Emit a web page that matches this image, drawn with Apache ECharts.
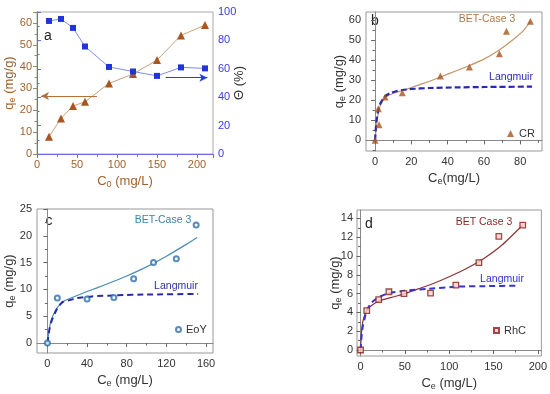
<!DOCTYPE html>
<html><head><meta charset="utf-8">
<script src="https://cdn.jsdelivr.net/npm/echarts@6/dist/echarts.min.js"></script>
<style>html,body{margin:0;padding:0;background:#fff}#c{width:550px;height:394px}</style>
</head><body><div id="c"></div>
<script>
// ---- Panel a ----
var aC0 = [15, 30, 45, 60, 90, 120, 150, 180, 210];
var aQe = [7.9, 16.3, 22, 23.9, 32.3, 36.6, 43, 54.3, 59];
var aTheta = [93.7, 95.1, 88.8, 75.7, 61.3, 58.1, 55.0, 61.0, 60.3];
var aArrowQ = [[75, 26.5], [5, 26.5]];
var aArrowT = [[161, 53.7], [213, 53.7]];
// ---- Panel b (CR) ----
var bCe = [0, 2.2, 1.8, 5.5, 15, 36, 52, 68.5, 72.4, 85.6];
var bQe = [0, 7.8, 15.8, 21.6, 23.8, 32.1, 36.6, 43.2, 54.4, 59.4];
var bBetX = [0, 0.5, 1, 2, 3, 5, 8, 12, 15, 20, 30, 40, 52, 60, 68, 76, 82, 85.6];
var bBetY = [0, 5, 9.5, 14.5, 17.5, 20.7, 22.7, 24, 24.8, 26.3, 29.5, 33, 37.3, 40.5, 44.8, 50.2, 55, 59.4];
var bLangX = [0, 0.5, 1, 2, 3, 5, 8, 12, 15, 20, 30, 45, 60, 86.5];
var bLangY = [0, 7, 11.2, 16, 18.5, 21.5, 23.4, 24.6, 25.1, 25.6, 26.1, 26.4, 26.6, 26.8];
var bXTicks = [0, 20, 40, 60, 80], bXMinor = [10, 30, 50, 70, 90];
var bYTicks = [0, 10, 20, 30, 40, 50, 60], bYMinor = [-5, 5, 15, 25, 35, 45, 55];
// ---- Panel c (EoY) ----
var cCe = [0, 10, 40, 67, 87, 107, 130, 150];
var cQe = [0, 8.4, 8.2, 8.5, 12, 15, 15.7, 22];
var cBetX = [0, 1.3, 3, 5.7, 10.7, 17.4, 25, 40, 60, 80, 100, 120, 140, 151];
var cBetY = [0, 1.8, 3.7, 5.2, 6.8, 7.9, 8.5, 9.6, 11.0, 12.5, 14.2, 16.2, 18.4, 19.7];
var cLangX = [0, 2, 4, 7.4, 10, 12.4, 15.7, 22.5, 30, 45, 70, 100, 152];
var cLangY = [0, 2.5, 4, 5.5, 6.5, 7.1, 7.7, 8.0, 8.4, 8.7, 8.9, 9.05, 9.15];
var cXTicks = [0, 40, 80, 120, 160], cXMinor = [20, 60, 100, 140];
var cYTicks = [0, 5, 10, 15, 20, 25], cYMinor = [2.5, 7.5, 12.5, 17.5, 22.5];
// ---- Panel d (RhC) ----
var dCe = [0, 7, 20.5, 32, 49, 79, 107.5, 133.5, 156, 183];
var dQe = [0, 4.2, 5.35, 6.2, 6.0, 6.05, 6.9, 9.3, 12.1, 13.3];
var dBetX = [0, 1, 2.5, 5, 7, 12, 20.5, 35, 50, 65, 80, 100, 120, 140, 160, 183];
var dBetY = [0, 1.8, 3, 3.8, 4.2, 4.7, 5.2, 5.6, 6.0, 6.5, 7.0, 7.8, 8.7, 9.8, 11.2, 13.3];
var dLangX = [0, 1, 2.5, 5, 7, 12, 20, 32, 50, 75, 110, 145, 176];
var dLangY = [0, 1.3, 2.5, 3.5, 4.2, 5.0, 5.6, 6.05, 6.3, 6.5, 6.75, 6.8, 6.85];
var dXTicks = [0, 50, 100, 150, 200], dXMinor = [25, 75, 125, 175];
var dYTicks = [0, 2, 4, 6, 8, 10, 12, 14], dYMinor = [1, 3, 5, 7, 9, 11, 13];

function zip(x, y) { return x.map(function (v, i) { return [v, y[i]]; }); }

var FONT = 'Liberation Sans';
function nameStyle(color) { return { color: color, fontSize: 13, fontFamily: FONT, rich: { s: { fontSize: 9, padding: [7, 0, 0, 0], color: color, fontFamily: FONT } } }; }

function mainAxis(grid, min, max, ticks, name, gap, lblMargin) {
  return {
    type: 'value', gridIndex: grid, min: min, max: max,
    axisLine: { show: true, lineStyle: { color: '#888', width: 1 } },
    axisTick: { show: true, length: 4, customValues: ticks, lineStyle: { color: '#666' } },
    axisLabel: { customValues: ticks, color: '#333', fontSize: 11, fontFamily: FONT, margin: lblMargin == null ? 5 : lblMargin },
    splitLine: { show: false },
    name: name, nameLocation: 'middle', nameGap: gap, nameMoveOverlap: false, nameTextStyle: nameStyle('#333')
  };
}
function minorAxis(grid, min, max, ticks, pos) {
  return {
    type: 'value', gridIndex: grid, min: min, max: max, position: pos,
    axisLine: { show: false },
    axisTick: { show: true, length: 2.5, customValues: ticks, lineStyle: { color: '#666' } },
    axisLabel: { show: false }, splitLine: { show: false }
  };
}

var brown = '#a0622d', blue = '#3a3adc';
function txt(t, x, y, color, size) {
  return { type: 'text', style: { text: t, x: x, y: y, fill: color, font: size + 'px "Liberation Sans"', align: 'center', verticalAlign: 'middle' } };
}
function curve(name, xi, yi, x, y, color, width, dash) {
  return { name: name, type: 'line', xAxisIndex: xi, yAxisIndex: yi, data: zip(x, y), showSymbol: false, smooth: 0.2,
    lineStyle: { color: color, width: width, type: dash || 'solid' }, z: 2 };
}

var option = {
  animation: false,
  textStyle: { fontFamily: FONT },
  grid: [
    { left: 37, top: 12, width: 176, height: 142, show: true, borderColor: '#aaa', borderWidth: 1 },
    { left: 366, top: 12, width: 176, height: 139, show: true, borderColor: '#999', borderWidth: 1 },
    { left: 37, top: 209, width: 176, height: 144, show: true, borderColor: '#999', borderWidth: 1 },
    { left: 357, top: 210, width: 185, height: 146, show: true, borderColor: '#999', borderWidth: 1 }
  ],
  xAxis: [
    { type: 'value', gridIndex: 0, min: 0, max: 220, interval: 50,
      axisLine: { lineStyle: { color: '#9a8a7a' } }, axisTick: { length: 4, lineStyle: { color: '#9a8a7a' } },
      minorTick: { show: true, splitNumber: 2, length: 2.5, lineStyle: { color: '#9a8a7a' } },
      axisLabel: { color: brown, fontSize: 11, fontFamily: FONT, margin: 5, showMaxLabel: false }, splitLine: { show: false },
      name: 'C{s|0} (mg/L)', nameLocation: 'middle', nameGap: 19, nameMoveOverlap: false, nameTextStyle: nameStyle(brown) },
    { type: 'value', gridIndex: 0, min: 0, max: 220, interval: 50, position: 'top',
      axisLine: { lineStyle: { color: '#6a6ae6' } }, axisTick: { inside: true, length: 4, lineStyle: { color: '#6a6ae6' } },
      minorTick: { show: true, splitNumber: 2, length: 2.5, lineStyle: { color: '#6a6ae6' } },
      axisLabel: { show: false }, splitLine: { show: false } },
    mainAxis(1, -5, 92, bXTicks, 'C{s|e}(mg/L)', 19),
    minorAxis(1, -5, 92, bXMinor, 'bottom'),
    mainAxis(2, -10.5, 167, cXTicks, 'C{s|e} (mg/L)', 19),
    minorAxis(2, -10.5, 167, cXMinor, 'bottom'),
    mainAxis(3, -4, 204, dXTicks, 'C{s|e} (mg/L)', 19),
    minorAxis(3, -4, 204, dXMinor, 'bottom')
  ],
  yAxis: [
    { type: 'value', gridIndex: 0, min: 0, max: 65, interval: 10,
      axisLine: { show: true, lineStyle: { color: '#9a8a7a' } }, axisTick: { show: true, length: 4, lineStyle: { color: '#9a8a7a' } },
      minorTick: { show: true, splitNumber: 2, length: 2.5, lineStyle: { color: '#9a8a7a' } },
      axisLabel: { color: brown, fontSize: 11, fontFamily: FONT, margin: 5, showMaxLabel: false }, splitLine: { show: false },
      name: 'q{s|e} (mg/g)', nameLocation: 'middle', nameGap: 20, nameRotate: 90, nameMoveOverlap: false, nameTextStyle: nameStyle(brown) },
    { type: 'value', gridIndex: 0, min: 0, max: 100, interval: 20, position: 'right',
      axisLine: { show: true, lineStyle: { color: '#6a6ae6' } }, axisTick: { show: true, length: 4, lineStyle: { color: '#6a6ae6' } },
      minorTick: { show: true, splitNumber: 2, length: 2.5, lineStyle: { color: '#6a6ae6' } },
      axisLabel: { color: blue, fontSize: 11, fontFamily: FONT, margin: 5 }, splitLine: { show: false },
      name: 'Θ (%)', nameLocation: 'middle', nameGap: 20, nameRotate: 90, nameMoveOverlap: false, nameTextStyle: nameStyle('#333') },
    mainAxis(1, -5.3, 64, bYTicks, 'q{s|e} (mg/g)', 19),
    minorAxis(1, -5.3, 64, bYMinor, 'left'),
    mainAxis(2, -1.86, 25, cYTicks, 'q{s|e} (mg/g)', 20),
    minorAxis(2, -1.86, 25, cYMinor, 'left'),
    mainAxis(3, -0.64, 14.9, dYTicks, 'q{s|e} (mg/g)', 14, 4),
    minorAxis(3, -0.64, 14.9, dYMinor, 'left')
  ],
  legend: [
    { data: ['CR'], left: 507, top: 128, padding: 0, itemWidth: 7, itemHeight: 7, textStyle: { fontSize: 11, color: '#333', fontFamily: FONT } },
    { data: ['EoY'], left: 175, top: 324, padding: 0, itemWidth: 5, itemHeight: 5, textStyle: { fontSize: 11, color: '#333', fontFamily: FONT } },
    { data: ['RhC'], left: 493, top: 325, padding: 0, itemWidth: 5, itemHeight: 5, textStyle: { fontSize: 11, color: '#333', fontFamily: FONT } }
  ],
  graphic: [
    txt('a', 48, 36, '#222', 14), txt('b', 375, 21, '#222', 14), txt('c', 49, 221, '#222', 14), txt('d', 369, 224, '#222', 14),
    txt('BET-Case 3', 487, 19, '#b07848', 10.5), txt('Langmuir', 511, 77, '#2a2ab8', 10.5),
    txt('BET-Case 3', 163, 220, '#3a80b0', 10.5), txt('Langmuir', 176, 286, '#3030a8', 10.5),
    txt('BET Case 3', 484, 222, '#8a2a2a', 10.5), txt('Langmuir', 502, 279, '#3030d0', 10.5)
  ],
  series: [
    { name: 'qe', type: 'line', xAxisIndex: 0, yAxisIndex: 0, data: zip(aC0, aQe), symbol: 'triangle', symbolSize: 8,
      itemStyle: { color: '#a8561f' }, lineStyle: { color: '#c9a07a', width: 1 }, z: 3,
      markLine: { silent: true, symbol: ['none', 'arrow'], symbolSize: [6, 8], label: { show: false },
        lineStyle: { color: '#b5703a', width: 1, type: 'solid' },
        data: [[{ coord: aArrowQ[0] }, { coord: aArrowQ[1] }]] } },
    { name: 'theta', type: 'line', xAxisIndex: 0, yAxisIndex: 1, data: zip(aC0, aTheta), symbol: 'rect', symbolSize: 6,
      itemStyle: { color: '#1f35d8' }, lineStyle: { color: '#7f8ce6', width: 1 }, z: 3,
      markLine: { silent: true, symbol: ['none', 'arrow'], symbolSize: [6, 8], label: { show: false },
        lineStyle: { color: '#2040e0', width: 1, type: 'solid' },
        data: [[{ coord: aArrowT[0] }, { coord: aArrowT[1] }]] } },
    curve('bBET', 2, 2, bBetX, bBetY, '#c4946a', 1.2),
    curve('bLang', 2, 2, bLangX, bLangY, '#2828b0', 2.2, [6, 3]),
    { name: 'CR', type: 'scatter', xAxisIndex: 2, yAxisIndex: 2, data: zip(bCe, bQe), symbol: 'triangle', symbolSize: 7,
      itemStyle: { color: '#a8561f' }, z: 4 },
    curve('cBET', 4, 4, cBetX, cBetY, '#4a8cb4', 1.2),
    curve('cLang', 4, 4, cLangX, cLangY, '#2a2aa8', 2, [6, 4]),
    { name: 'EoY', type: 'scatter', xAxisIndex: 4, yAxisIndex: 4, data: zip(cCe, cQe), symbol: 'emptyCircle', symbolSize: 5,
      itemStyle: { color: '#2d6fa8', borderWidth: 1.3 }, z: 4 },
    curve('dBET', 6, 6, dBetX, dBetY, '#8c3535', 1.2),
    curve('dLang', 6, 6, dLangX, dLangY, '#3434d4', 2, [6, 4]),
    { name: 'RhC', type: 'scatter', xAxisIndex: 6, yAxisIndex: 6, data: zip(dCe, dQe), symbol: 'rect', symbolSize: 5.5,
      itemStyle: { color: '#f2d4cc', borderColor: '#8b1c1c', borderWidth: 1.3 }, z: 4 }
  ]
};
var chart = echarts.init(document.getElementById('c'), null, { renderer: 'canvas' });
chart.setOption(option);
</script></body></html>
